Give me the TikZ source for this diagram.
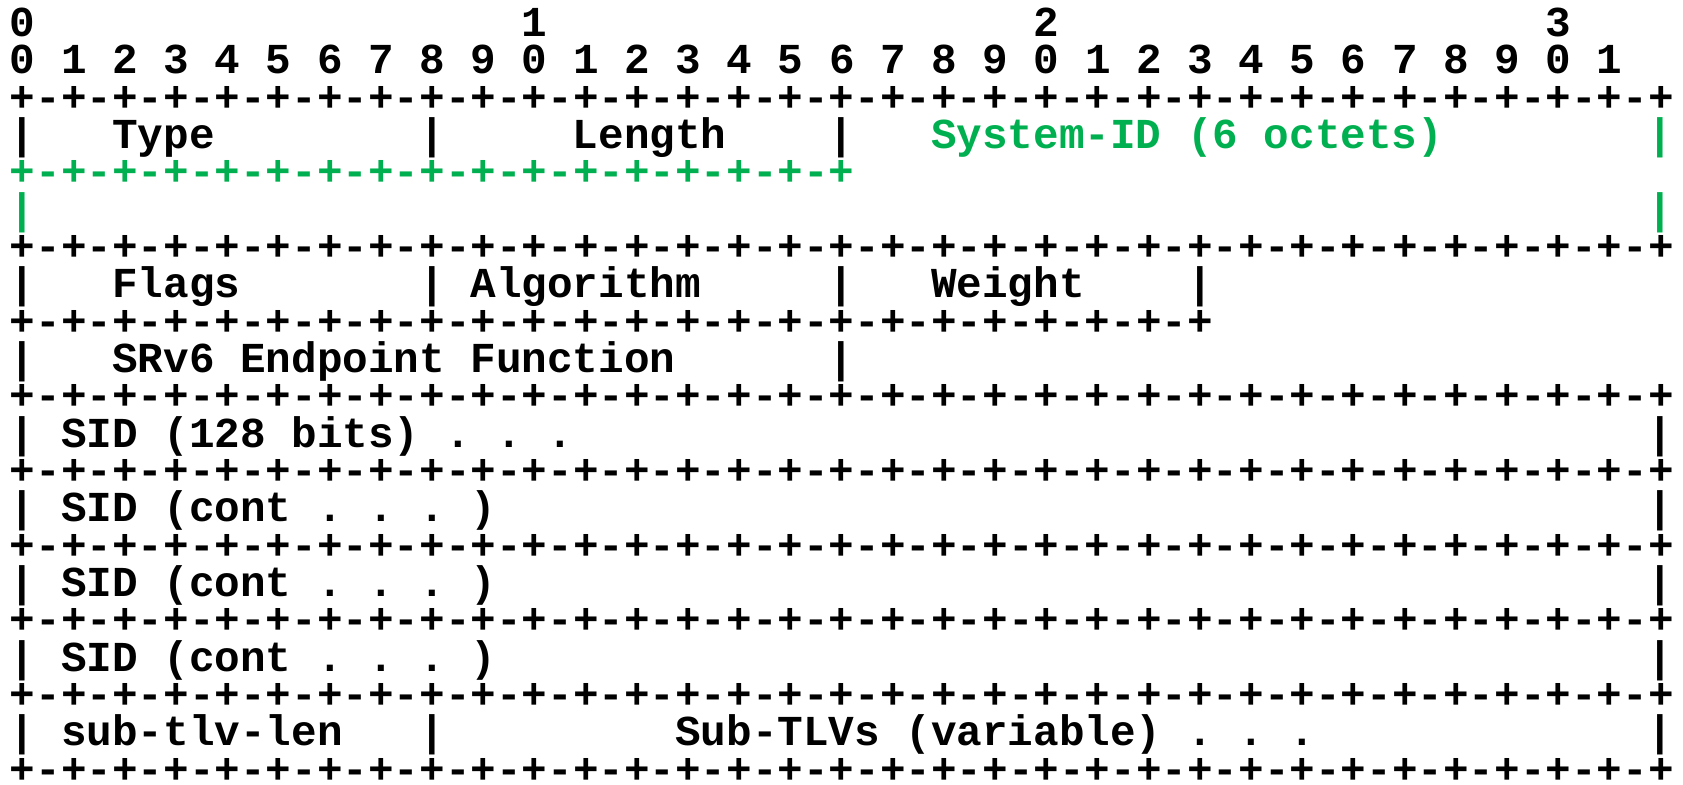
\documentclass[tikz,border=0pt]{standalone}
\usepackage{fontspec}
\setmonofont{Liberation Mono}
\definecolor{fieldgreen}{RGB}{0,176,80}
\newcommand\asc[5][]{\node[txt,#1] (#2) at ({9.9+25.59*#3},{36.5+37.33*(#4-1)}) {#5};}
\def\bsixteen{+-+-+-+-+-+-+-+-}
\begin{document}
\begin{tikzpicture}[x=0.5pt,y=-0.5pt,
  txt/.style={anchor=base west,inner sep=0pt,outer sep=0pt,
    font=\fontsize{21.33pt}{25pt}\selectfont\ttfamily\bfseries\frenchspacing},
  grn/.style={text=fieldgreen}]
\fill[white] (0,0) rectangle (1683,784);
\useasboundingbox (0,0) rectangle (1683,784);
% ruler
\asc{h0}{0}{1}{0}
\asc{h1}{20}{1}{1}
\asc{h2}{40}{1}{2}
\asc{h3}{60}{1}{3}
\asc{bits}{0}{2}{0 1 2 3 4 5 6 7 8 9 0 1 2 3 4 5 6 7 8 9 0 1 2 3 4 5 6 7 8 9 0 1}
\asc{b3}{0}{3}{\bsixteen\bsixteen\bsixteen\bsixteen+}
% row 4
\asc{r4a}{0}{4}{|}
\asc{type}{4}{4}{Type}
\asc{r4b}{16}{4}{|}
\asc{length}{22}{4}{Length}
\asc{r4c}{32}{4}{|}
\asc[grn]{sysid}{36}{4}{System-ID (6 octets)}
\asc[grn]{r4d}{64}{4}{|}
\asc[grn]{b5}{0}{5}{\bsixteen\bsixteen+}
\asc[grn]{r6a}{0}{6}{|}
\asc[grn]{r6b}{64}{6}{|}
\asc{b7}{0}{7}{\bsixteen\bsixteen\bsixteen\bsixteen+}
% row 8
\asc{r8a}{0}{8}{|}
\asc{flags}{4}{8}{Flags}
\asc{r8b}{16}{8}{|}
\asc{algo}{18}{8}{Algorithm}
\asc{r8c}{32}{8}{|}
\asc{weight}{36}{8}{Weight}
\asc{r8d}{46}{8}{|}
\asc{b9}{0}{9}{\bsixteen\bsixteen+-+-+-+-+-+-+-+}
% row 10
\asc{r10a}{0}{10}{|}
\asc{func}{4}{10}{SRv6 Endpoint Function}
\asc{r10b}{32}{10}{|}
\asc{b11}{0}{11}{\bsixteen\bsixteen\bsixteen\bsixteen+}
% SID rows
\asc{r12a}{0}{12}{|}
\asc{sid}{2}{12}{SID (128 bits) . . .}
\asc{r12b}{64}{12}{|}
\asc{b13}{0}{13}{\bsixteen\bsixteen\bsixteen\bsixteen+}
\asc{r14a}{0}{14}{|}
\asc{sidc1}{2}{14}{SID (cont . . . )}
\asc{r14b}{64}{14}{|}
\asc{b15}{0}{15}{\bsixteen\bsixteen\bsixteen\bsixteen+}
\asc{r16a}{0}{16}{|}
\asc{sidc2}{2}{16}{SID (cont . . . )}
\asc{r16b}{64}{16}{|}
\asc{b17}{0}{17}{\bsixteen\bsixteen\bsixteen\bsixteen+}
\asc{r18a}{0}{18}{|}
\asc{sidc3}{2}{18}{SID (cont . . . )}
\asc{r18b}{64}{18}{|}
\asc{b19}{0}{19}{\bsixteen\bsixteen\bsixteen\bsixteen+}
% row 20
\asc{r20a}{0}{20}{|}
\asc{subl}{2}{20}{sub-tlv-len}
\asc{r20b}{16}{20}{|}
\asc{subt}{26}{20}{Sub-TLVs (variable) . . .}
\asc{r20c}{64}{20}{|}
\asc{b21}{0}{21}{\bsixteen\bsixteen\bsixteen\bsixteen+}
\end{tikzpicture}
\end{document}
